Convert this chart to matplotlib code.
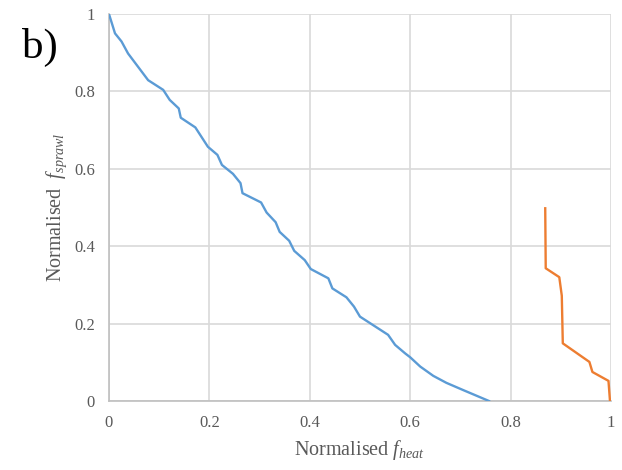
import matplotlib
matplotlib.use('Agg')
import matplotlib.pyplot as plt

# blue front (normalised heat vs sprawl)
heat_a = [0.0, 0.012, 0.025, 0.038, 0.078, 0.108, 0.121, 0.139, 0.143, 0.172,
          0.197, 0.216, 0.225, 0.247, 0.262, 0.266, 0.303, 0.314, 0.332, 0.340,
          0.359, 0.369, 0.390, 0.402, 0.437, 0.445, 0.473, 0.488, 0.500, 0.556,
          0.570, 0.590, 0.600, 0.620, 0.646, 0.672, 0.706, 0.757]
sprawl_a = [1.0, 0.950, 0.929, 0.898, 0.829, 0.804, 0.778, 0.756, 0.732, 0.707,
            0.657, 0.636, 0.610, 0.587, 0.563, 0.537, 0.513, 0.487, 0.462, 0.437,
            0.414, 0.388, 0.364, 0.341, 0.317, 0.291, 0.268, 0.244, 0.218, 0.171,
            0.145, 0.123, 0.113, 0.089, 0.065, 0.047, 0.028, 0.0]

# orange front
heat_b = [0.869, 0.870, 0.897, 0.902, 0.904, 0.957, 0.963, 0.995, 0.998]
sprawl_b = [0.498, 0.343, 0.320, 0.272, 0.149, 0.101, 0.075, 0.052, 0.0]

plt.rcParams['font.family'] = ['Liberation Serif', 'DejaVu Serif']
plt.rcParams['mathtext.fontset'] = 'custom'
plt.rcParams['mathtext.rm'] = 'Liberation Serif'
plt.rcParams['mathtext.it'] = 'Liberation Serif:italic'

fig = plt.figure(figsize=(6.22, 4.70), dpi=100)
ax = fig.add_axes([0.1752, 0.1468, 0.8071, 0.8234])

ax.plot(heat_a, sprawl_a, color='#5b9bd5', linewidth=1.7, zorder=3)
ax.plot(heat_b, sprawl_b, color='#ed7d31', linewidth=1.7, zorder=3)

ax.set_xlim(0, 1)
ax.set_ylim(0, 1)
ticks = [0, 0.2, 0.4, 0.6, 0.8, 1]
ax.set_xticks(ticks)
ax.set_yticks(ticks)
ax.set_xticklabels(['0', '0.2', '0.4', '0.6', '0.8', '1'])
ax.set_yticklabels(['0', '0.2', '0.4', '0.6', '0.8', '1'])
ax.tick_params(length=0, labelsize=12, labelcolor='#595959', pad=10)
ax.grid(True, color='#d9d9d9', linewidth=1.2)
ax.set_axisbelow(True)
for s in ['top', 'right']:
    ax.spines[s].set_visible(False)
for s in ['left', 'bottom']:
    ax.spines[s].set_color('#bfbfbf')
    ax.spines[s].set_linewidth(1.2)

ax.set_xlabel(r'Normalised $f_{heat}$', fontsize=14.5, color='#595959', labelpad=5)
ax.set_ylabel(r'Normalised  $f_{sprawl}$', fontsize=14.5, color='#595959', labelpad=4)

fig.text(0.035, 0.94, 'b)', fontsize=31, color='black', va='top')

plt.savefig('out.png', dpi=100)
